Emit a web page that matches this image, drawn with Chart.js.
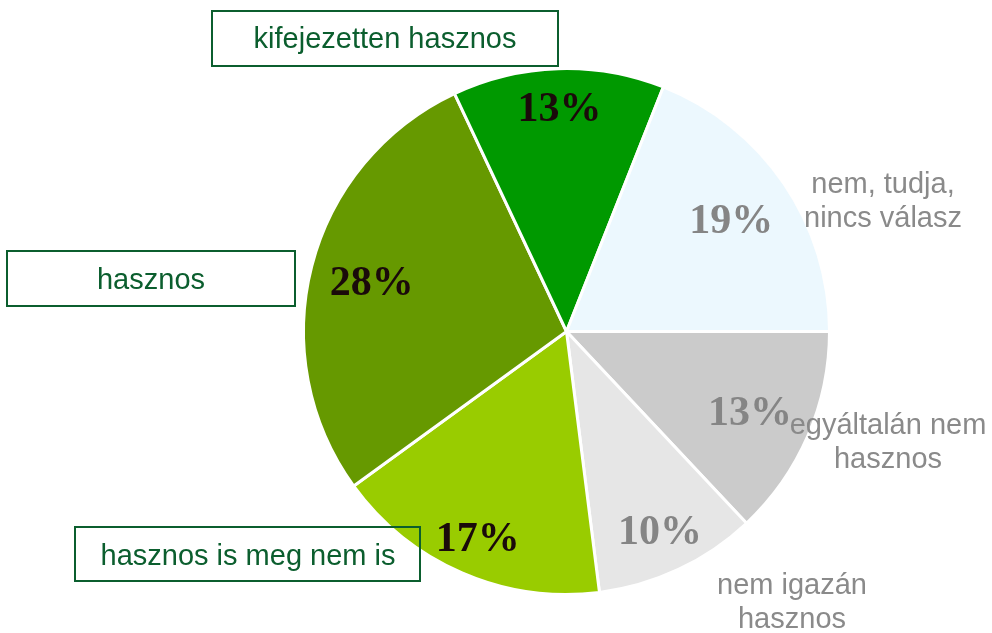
<!DOCTYPE html>
<html lang="hu">
<head>
    <meta charset="UTF-8">
    <title>Hasznosság</title>
    <script src="https://cdn.jsdelivr.net/npm/chart.js"></script>
    <style>
        html, body { margin: 0; padding: 0; background: #fff; }
        #wrap { width: 992px; height: 633px; position: relative; }
    </style>
</head>
<body>
    <div id="wrap"><canvas id="pieChart" width="992" height="633"></canvas></div>

    <script>
        // Data (clockwise from 3 o'clock)
        const categories = ['egyáltalán nem hasznos', 'nem igazán hasznos', 'hasznos is meg nem is', 'hasznos', 'kifejezetten hasznos', 'nem, tudja, nincs válasz'];
        const shares = [13, 10, 17, 28, 13, 19];

        const sliceColors = ['#cbcbcb', '#e6e6e6', '#99cc00', '#669900', '#009900', '#ecf8fe'];
        const pctColors = ['#858585', '#858585', '#1a0a0a', '#1a0a0a', '#1a0a0a', '#858585'];
        const pctRadius = [0.76, 0.835, 0.85, 0.765, 0.855, 0.757];

        const green = '#0b5e2e';
        const grey = '#8a8a8a';

        // Category labels (boxed ones are the green slices)
        const labelSpecs = [
            { lines: ['egyáltalán nem', 'hasznos'], x: 888, y: 426, box: null, color: grey },
            { lines: ['nem igazán', 'hasznos'], x: 792, y: 586, box: null, color: grey },
            { lines: ['hasznos is meg nem is'], x: 248, y: 557, box: [75, 527, 345, 54], color: green },
            { lines: ['hasznos'], x: 151, y: 281, box: [7, 251, 288, 55], color: green },
            { lines: ['kifejezetten hasznos'], x: 385, y: 40, box: [212, 11, 346, 55], color: green },
            { lines: ['nem, tudja,', 'nincs válasz'], x: 883, y: 185, box: null, color: grey }
        ];

        const labelPlugin = {
            id: 'sliceLabels',
            afterDatasetsDraw(chart) {
                const ctx = chart.ctx;
                const meta = chart.getDatasetMeta(0);
                const total = shares.reduce((a, b) => a + b, 0);

                ctx.save();
                ctx.textAlign = 'center';
                ctx.textBaseline = 'middle';

                // percentages
                ctx.font = 'bold 42px "Liberation Serif", "Times New Roman", serif';
                meta.data.forEach((arc, i) => {
                    const p = arc.getProps(['x', 'y', 'startAngle', 'endAngle', 'outerRadius'], true);
                    const mid = (p.startAngle + p.endAngle) / 2;
                    const r = p.outerRadius * pctRadius[i];
                    ctx.fillStyle = pctColors[i];
                    ctx.fillText(Math.round(shares[i] / total * 100) + '%', p.x + Math.cos(mid) * r, p.y + Math.sin(mid) * r + 3);
                });

                // category labels
                ctx.font = '29px "Liberation Sans", Arial, sans-serif';
                labelSpecs.forEach(l => {
                    if (l.box) {
                        ctx.strokeStyle = green;
                        ctx.lineWidth = 2;
                        ctx.strokeRect(l.box[0], l.box[1], l.box[2], l.box[3]);
                    }
                    ctx.fillStyle = l.color;
                    l.lines.forEach((t, k) => ctx.fillText(t, l.x, l.y + k * 34));
                });
                ctx.restore();
            }
        };

        new Chart(document.getElementById('pieChart'), {
            type: 'pie',
            data: {
                labels: categories,
                datasets: [{
                    data: shares,
                    backgroundColor: sliceColors,
                    borderColor: '#ffffff',
                    borderWidth: 3
                }]
            },
            options: {
                responsive: false,
                animation: false,
                rotation: 90,
                layout: {
                    padding: { left: 302, right: 161, top: 67, bottom: 37 }
                },
                plugins: {
                    legend: { display: false },
                    tooltip: { enabled: false }
                }
            },
            plugins: [labelPlugin]
        });
    </script>
</body>
</html>
